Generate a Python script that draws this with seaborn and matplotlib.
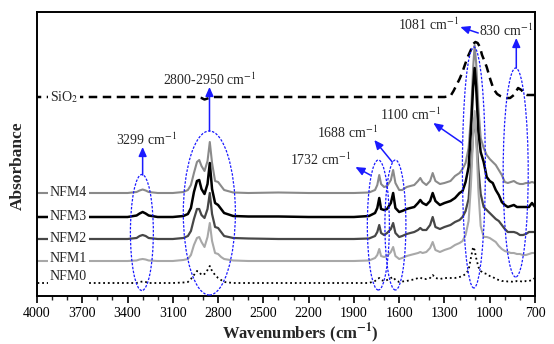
import matplotlib
matplotlib.use("Agg")
import matplotlib.pyplot as plt
from matplotlib.patches import Ellipse
from matplotlib.ticker import MultipleLocator, FixedLocator
import numpy as np
import pandas as pd
import seaborn as sns

# ---------------- data ----------------
wavenumber = [4000, 3800, 3600, 3400,
              3340, 3320, 3300, 3280, 3260,
              3200, 3100, 3030,
              3000, 2980, 2960, 2940, 2925, 2910, 2890, 2870, 2855, 2840, 2820, 2800, 2780, 2760,
              2700, 2600, 2400, 2200, 2000, 1900, 1800,
              1760, 1745, 1732, 1720, 1700, 1680, 1655, 1640, 1625, 1600, 1580, 1550, 1526, 1500,
              1475, 1460, 1445, 1420, 1395, 1378, 1360, 1330, 1300,
              1260, 1230, 1200, 1180, 1160, 1140, 1125, 1110, 1100, 1090, 1075, 1060,
              1040, 1020, 1000, 980, 960, 940, 920, 900, 880, 860, 840, 820, 800, 780, 760, 740, 720, 700]

nfm4 = [0, 0, 0, 0,
        1, 2.5, 3.5, 2.5, 1,
        0, 0, 1,
        3, 8, 20, 31, 33, 27, 22, 32, 51, 30, 12, 11, 7, 3,
        0.5, 0, 0.5, 0, 0, 0, 0.5,
        3, 8, 18, 9, 6, 7, 13, 23, 10, 3, 3, 6, 7, 8,
        12, 15, 11, 8, 12, 20, 12, 9, 10,
        12, 17, 20, 24, 30, 45, 75, 125, 148, 130, 85, 55,
        45, 38, 34, 31, 28, 23, 18, 11, 10, 11, 12, 10, 9, 9, 10, 10, 11, 10]

nfm3 = [0, 0, 0, 0,
        1.5, 3.5, 5, 3.5, 1.5,
        0, 0, 1,
        3, 9, 25, 36, 37, 28, 23, 33, 54, 28, 14, 12, 8, 4,
        1, 0.5, 0.5, 0, 0, 0, 1,
        4, 9, 19, 8, 7, 8, 14, 24, 9, 5, 6, 8, 9, 10,
        14, 17, 14, 12, 16, 24, 16, 12, 14,
        16, 19, 24, 26, 35, 50, 85, 130, 149, 130, 85, 65,
        55, 40, 36, 34, 27, 22, 15, 12, 10, 11, 12, 10, 10, 10, 10, 10, 14, 10]

nfm2 = [0, 0, 0, 0,
        1, 3, 4, 3, 1,
        0, 0, 1,
        3, 8, 20, 30, 30, 24, 21, 30, 46, 25, 12, 11, 7, 3,
        1, 0.5, 0, 0, 0, 0, 0.5,
        3, 7, 14, 6, 4, 6, 10, 16, 6, 2, 3, 5, 6, 7,
        9, 11, 9, 9, 14, 22, 12, 10, 12,
        14, 17, 19, 22, 28, 40, 70, 105, 121, 105, 70, 45,
        32, 29, 26, 23, 20, 18, 14, 10, 7, 7, 7, 6, 4, 4, 5, 7, 7, 7]

nfm1 = [0, 0, 0, 0,
        0.5, 1.5, 2, 1.5, 0.5,
        0, 0, 1,
        2, 6, 16, 23, 24, 19, 14, 24, 38, 20, 8, 7, 4, 2,
        0.5, 0, 0, 0, 0, 0, 0.5,
        3, 6, 12, 5, 4, 5, 9, 14, 5, 2, 3, 5, 6, 7,
        8, 9, 8, 9, 13, 19, 11, 9, 11,
        13, 16, 18, 20, 26, 40, 75, 125, 150, 125, 70, 35,
        24, 24, 23, 21, 19, 15, 12, 10, 9, 8, 8, 7, 7, 6, 6, 7, 8, 8]

nfm0 = [0, 0, 0, 0,
        0, 1, 1.5, 1, 0,
        0, 0, 0.5,
        1, 4, 8, 12, 11, 8, 9, 13, 17, 12, 8, 5, 3, 1,
        0, 0, 0, 0, 0, 0, 0,
        2, 4, 5, 3, 2, 3, 5, 6, 3, 1, 1.5, 2, 3, 3.5,
        5, 5.5, 4, 4, 5, 8, 5, 4, 5,
        5, 5, 6, 7, 9, 13, 25, 36, 33, 25, 16, 12,
        10, 9, 7, 6, 4, 3, 2, 2, 1.5, 1.5, 1, 2, 2, 1, 2, 2, 3, 5]

sio2_wn = [4000, 3600, 3000, 2940, 2910, 2890, 2860, 2840, 2800, 2400, 1800, 1300, 1260,
           1240, 1220, 1200, 1183, 1165, 1143, 1125, 1110, 1095, 1080, 1065, 1051, 1035,
           1020, 997, 975, 951, 930, 911, 890, 865, 840, 812, 790, 770, 753, 700]
sio2 = [0, 0, 0, 0, -1, -2.5, -1, 0, 0, 0, 0, 0, 1,
        6, 12, 18, 24, 32, 41, 47, 53, 55, 54, 50, 42, 36,
        30, 18, 8, 3, 1, 0, -1, -1, 2, 9, 7, 3, 2, 2]

series_names = ["SiO$_2$", "NFM4", "NFM3", "NFM2", "NFM1", "NFM0"]
offsets = [199, 103, 79, 57, 35, 13]
xtick_values = [4000, 3700, 3400, 3100, 2800, 2500, 2200, 1900, 1600, 1300, 1000, 700]

for s in (nfm4, nfm3, nfm2, nfm1, nfm0):
    assert len(s) == len(wavenumber)
assert len(sio2) == len(sio2_wn)

# ---------------- style ----------------
sns.set_theme(style="white")
plt.rcParams["font.family"] = ["Liberation Serif", "DejaVu Serif"]
plt.rcParams["mathtext.fontset"] = "stix"

fig = plt.figure(figsize=(5.54, 3.44), dpi=100)
ax = fig.add_axes([37 / 554, 48 / 344, 498 / 554, 284 / 344])

styles = [
    dict(color="black", lw=1.8, dashes=(3.4, 2.2)),
    dict(color="#8a8a8a", lw=1.5),
    dict(color="black", lw=1.8),
    dict(color="#474747", lw=1.6),
    dict(color="#a8a8a8", lw=1.5),
    dict(color="black", lw=1.3, dashes=(1, 1.6)),
]
curves = [(sio2_wn, sio2), (wavenumber, nfm4), (wavenumber, nfm3),
          (wavenumber, nfm2), (wavenumber, nfm1), (wavenumber, nfm0)]

for (wn, vals), off, st in zip(curves, offsets, styles):
    df = pd.DataFrame({"wn": wn, "a": np.array(vals, dtype=float) + off})
    sns.lineplot(data=df, x="wn", y="a", ax=ax, color=st["color"],
                 lw=st["lw"], estimator=None, sort=True)
    l = ax.lines[-1]
    if st.get("dashes") is not None:
        l.set_dashes(st["dashes"])
    l.set_solid_capstyle("butt")

ax.set_xlim(4000, 700)
ax.set_ylim(0, 284)
ax.xaxis.set_major_locator(FixedLocator(xtick_values))
ax.xaxis.set_minor_locator(MultipleLocator(100))
ax.set_yticks([])
ax.tick_params(axis="x", which="major", direction="out", length=5, width=1.2,
               labelsize=10, pad=3, bottom=True, colors="black")
ax.tick_params(axis="x", which="minor", direction="out", length=3, width=1.0, bottom=True)
for sp in ax.spines.values():
    sp.set_visible(True)
    sp.set_color("black")
    sp.set_linewidth(1.4)

ax.set_xlabel("Wavenumbers (cm$^{\\mathbf{-1}}$)", fontsize=12, fontweight="bold")
ax.xaxis.set_label_coords(0.528, -0.088)
ax.set_ylabel("Absorbance", fontsize=12.5, fontweight="bold")
ax.yaxis.set_label_coords(-0.022, 0.46)

# curve labels
label_y = [199, 103, 79, 57, 37, 19]
for name, y in zip(series_names, label_y):
    ax.text(3914, y, name, fontsize=10, ha="left", va="center", zorder=5,
            bbox=dict(facecolor="white", edgecolor="none", pad=1.2))

# ellipses (blue dotted)
blue = "#1a1aff"
ellipses = [(3305, 63.5, 152, 116), (2858, 83, 345, 164), (1738, 71, 146, 130),
            (1625, 71, 139, 130), (1105, 128.5, 152, 241), (828, 123.5, 166, 209)]
for cx, cy, w, h in ellipses:
    ax.add_patch(Ellipse((cx, cy), w, h, fill=False, edgecolor=blue, lw=0.9,
                         linestyle=(0, (2, 1.2)), zorder=6))

# arrows and annotation labels
arrows = [((3300, 121), (3300, 149)), ((2857, 165), (2857, 209)),
          ((1792, 121), (1890, 129)), ((1646, 134), (1765, 156)),
          ((1182, 153), (1374, 173)), ((1076, 263), (1195, 269)),
          ((824, 228), (824, 258))]
for tail, head in arrows:
    ax.annotate("", xy=head, xytext=tail,
                arrowprops=dict(arrowstyle="-|>,head_length=0.45,head_width=0.2",
                                color=blue, lw=1.1, shrinkA=0, shrinkB=0), zorder=7)

ann_text = ["3299 cm$^{-1}$", "2800-2950 cm$^{-1}$", "1732 cm$^{-1}$", "1688 cm$^{-1}$",
            "1100 cm$^{-1}$", "1081 cm$^{-1}$", "830 cm$^{-1}$"]
ann_pos = [(3276, 156), (2857, 216), (2122, 136), (1944, 163), (1527, 181),
           (1407, 271), (890, 265)]
for t, (x, y) in zip(ann_text, ann_pos):
    ax.text(x, y, t, fontsize=10, ha="center", va="center", zorder=8)

fig.savefig("out.png", dpi=100)
